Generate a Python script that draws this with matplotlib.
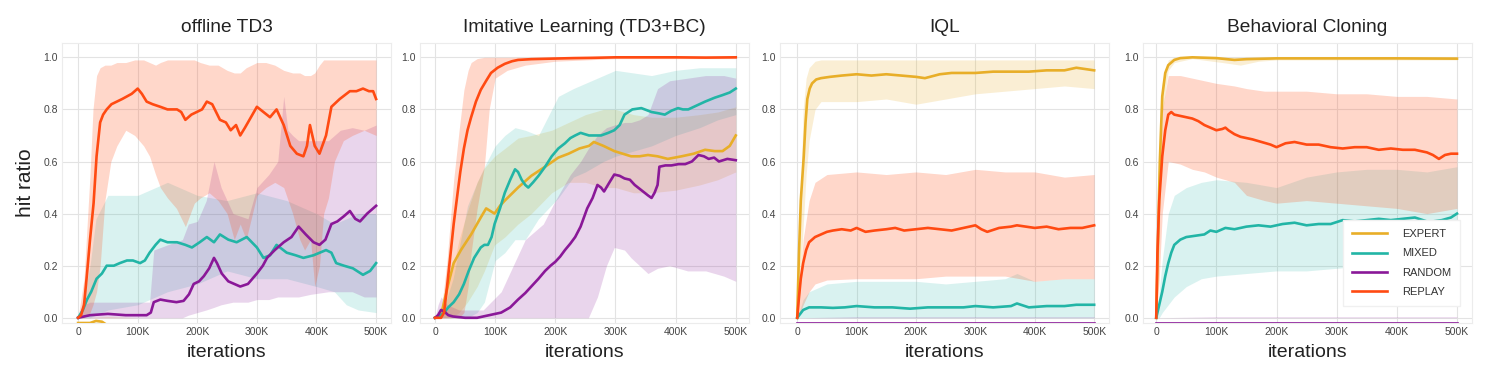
import matplotlib
matplotlib.use("Agg")
import matplotlib.pyplot as plt

plt.rcParams['font.family'] = ['Liberation Sans', 'DejaVu Sans']

# ---------------- data (x in thousands of iterations) ----------------
titles = ["offline TD3", "Imitative Learning (TD3+BC)", "IQL", "Behavioral Cloning"]
series_names = ["EXPERT", "MIXED", "RANDOM", "REPLAY"]
xticks_k = [0, 100, 200, 300, 400, 500]
xtick_labels = ["0", "100K", "200K", "300K", "400K", "500K"]
yticks = [0.0, 0.2, 0.4, 0.6, 0.8, 1.0]

# ---- offline TD3 ----
td3_expert_x = [0, 20, 30, 40, 50, 100, 200, 300, 400, 500]
td3_expert_m = [-0.02, -0.02, -0.012, -0.015, -0.03, -0.03, -0.03, -0.03, -0.03, -0.03]
td3_expert_bx = [0, 50, 100, 200, 300, 400, 500]
td3_expert_lo = [0, 0, 0, 0, 0, 0, 0]
td3_expert_hi = [0, 0.005, 0.0, 0.0, 0.0, 0.0, 0.0]

td3_mixed_x = [0, 8, 15, 22, 31, 40, 48, 60, 70, 82, 92, 104, 112, 120, 130, 138, 150, 166, 180, 191,
               204, 216, 228, 238, 252, 266, 283, 300, 311, 322, 333, 350, 365, 378, 395, 416, 425, 433,
               446, 461, 478, 490, 500]
td3_mixed_m = [0, 0.03, 0.07, 0.10, 0.15, 0.17, 0.20, 0.20, 0.21, 0.22, 0.22, 0.21, 0.22, 0.25, 0.28,
               0.30, 0.29, 0.29, 0.28, 0.27, 0.29, 0.31, 0.29, 0.32, 0.30, 0.29, 0.31, 0.27, 0.23, 0.24,
               0.28, 0.25, 0.24, 0.23, 0.24, 0.26, 0.25, 0.21, 0.20, 0.19, 0.165, 0.18, 0.21]
td3_mixed_bx = [0, 10, 20, 30, 50, 100, 150, 200, 250, 300, 350, 400, 430, 450, 470, 500]
td3_mixed_lo = [0, 0.0, 0.0, 0.01, 0.03, 0.05, 0.10, 0.13, 0.18, 0.15, 0.15, 0.12, 0.10, 0.05, 0.03, 0.02]
td3_mixed_hi = [0, 0.08, 0.20, 0.38, 0.47, 0.47, 0.52, 0.47, 0.45, 0.48, 0.45, 0.40, 0.36, 0.38, 0.40, 0.40]

td3_random_x = [0, 10, 20, 50, 80, 100, 115, 122, 127, 138, 150, 165, 177, 186, 194, 203, 211, 220,
                228, 233, 241, 252, 262, 272, 285, 300, 310, 317, 330, 345, 358, 370, 382, 395, 405,
                415, 425, 435, 446, 456, 465, 473, 485, 500]
td3_random_m = [0, 0.005, 0.01, 0.015, 0.01, 0.01, 0.01, 0.02, 0.06, 0.07, 0.065, 0.06, 0.065, 0.09,
                0.13, 0.14, 0.16, 0.19, 0.23, 0.21, 0.17, 0.14, 0.13, 0.12, 0.13, 0.17, 0.20, 0.23,
                0.26, 0.29, 0.31, 0.35, 0.32, 0.29, 0.28, 0.30, 0.36, 0.37, 0.39, 0.41, 0.38, 0.37,
                0.40, 0.43]
td3_random_bx = [0, 10, 20, 60, 120, 127, 150, 175, 185, 200, 215, 228, 240, 260, 285, 300, 320, 335,
                 345, 352, 360, 370, 390, 420, 440, 460, 480, 500]
td3_random_lo = [0, 0, 0, 0, 0, 0.0, 0.0, 0.0, 0.01, 0.02, 0.03, 0.04, 0.05, 0.06, 0.06, 0.07, 0.07,
                 0.08, 0.08, 0.08, 0.08, 0.08, 0.09, 0.10, 0.10, 0.10, 0.08, 0.08]
td3_random_hi = [0, 0.05, 0.06, 0.06, 0.06, 0.26, 0.28, 0.30, 0.36, 0.37, 0.45, 0.60, 0.50, 0.40, 0.38,
                 0.50, 0.55, 0.60, 0.85, 0.72, 0.70, 0.68, 0.68, 0.68, 0.72, 0.73, 0.72, 0.74]

td3_replay_x = [0, 5, 10, 15, 20, 26, 31, 37, 42, 48, 56, 65, 74, 82, 90, 100, 107, 115, 125, 138, 150,
                166, 173, 180, 190, 199, 208, 216, 225, 238, 248, 256, 265, 272, 280, 290, 300, 311, 322,
                333, 345, 356, 367, 378, 384, 389, 397, 405, 416, 425, 439, 456, 467, 478, 488, 495, 500]
td3_replay_m = [0, 0.01, 0.05, 0.17, 0.30, 0.44, 0.62, 0.75, 0.78, 0.80, 0.82, 0.83, 0.84, 0.85, 0.86,
                0.88, 0.86, 0.83, 0.82, 0.81, 0.80, 0.80, 0.79, 0.76, 0.78, 0.79, 0.80, 0.83, 0.82, 0.76,
                0.75, 0.72, 0.74, 0.70, 0.73, 0.77, 0.81, 0.79, 0.77, 0.80, 0.74, 0.66, 0.63, 0.62, 0.66,
                0.74, 0.66, 0.63, 0.70, 0.81, 0.84, 0.87, 0.87, 0.88, 0.87, 0.87, 0.84]
td3_replay_bx = [0, 10, 20, 25, 31, 37, 45, 55, 65, 80, 95, 110, 120, 130, 138, 150, 165, 180, 195, 205,
                 220, 235, 250, 262, 272, 282, 300, 315, 330, 345, 360, 372, 380, 390, 397, 405, 412, 420,
                 430, 445, 460, 480, 500]
td3_replay_lo = [0, 0.0, 0.02, 0.05, 0.10, 0.20, 0.45, 0.60, 0.66, 0.72, 0.70, 0.66, 0.62, 0.55, 0.50,
                 0.46, 0.42, 0.35, 0.44, 0.46, 0.48, 0.45, 0.40, 0.30, 0.36, 0.30, 0.47, 0.50, 0.52, 0.50,
                 0.40, 0.30, 0.26, 0.30, 0.12, 0.20, 0.40, 0.46, 0.60, 0.68, 0.70, 0.72, 0.70]
td3_replay_hi = [0, 0.15, 0.55, 0.80, 0.93, 0.96, 0.97, 0.97, 0.98, 0.98, 0.99, 0.99, 0.98, 0.97, 0.98,
                 0.99, 0.99, 0.99, 0.99, 0.98, 0.97, 0.97, 0.95, 0.94, 0.94, 0.96, 0.98, 0.98, 0.97, 0.95,
                 0.94, 0.94, 0.93, 0.93, 0.94, 0.97, 0.99, 0.99, 0.99, 0.99, 0.99, 0.99, 0.99]

# ---- Imitative Learning (TD3+BC) ----
bc3_expert_x = [0, 10, 20, 31, 43, 60, 76, 85, 92, 99, 108, 116, 138, 160, 183, 205, 222, 240, 256, 264,
                280, 298, 312, 326, 340, 354, 370, 387, 410, 430, 449, 465, 478, 490, 500]
bc3_expert_m = [0, 0.01, 0.11, 0.21, 0.26, 0.32, 0.385, 0.42, 0.41, 0.40, 0.43, 0.45, 0.50, 0.545, 0.58,
                0.615, 0.63, 0.65, 0.66, 0.675, 0.66, 0.64, 0.63, 0.62, 0.62, 0.625, 0.62, 0.61, 0.62,
                0.63, 0.645, 0.64, 0.64, 0.66, 0.70]
bc3_expert_bx = [0, 15, 26, 40, 54, 70, 82, 99, 116, 138, 160, 194, 222, 250, 280, 300, 330, 360, 400,
                 440, 470, 500]
bc3_expert_lo = [0, 0, 0.0, 0.02, 0.06, 0.12, 0.18, 0.28, 0.31, 0.36, 0.40, 0.48, 0.52, 0.52, 0.50,
                 0.50, 0.48, 0.48, 0.49, 0.51, 0.53, 0.56]
bc3_expert_hi = [0, 0.06, 0.15, 0.30, 0.41, 0.52, 0.575, 0.62, 0.65, 0.69, 0.70, 0.72, 0.75, 0.78, 0.80,
                 0.80, 0.78, 0.77, 0.77, 0.78, 0.79, 0.81]

bc3_mixed_x = [0, 10, 15, 22, 31, 40, 48, 56, 65, 76, 82, 88, 94, 99, 108, 116, 125, 133, 138, 144, 150,
               155, 163, 172, 183, 194, 205, 216, 225, 233, 242, 256, 276, 288, 298, 307, 315, 328, 343,
               360, 372, 382, 393, 404, 412, 421, 435, 449, 465, 478, 490, 500]
bc3_mixed_m = [0, 0.01, 0.02, 0.04, 0.06, 0.09, 0.13, 0.18, 0.23, 0.27, 0.28, 0.28, 0.31, 0.36, 0.42,
               0.48, 0.53, 0.57, 0.56, 0.53, 0.51, 0.50, 0.52, 0.545, 0.58, 0.62, 0.65, 0.67, 0.69, 0.70,
               0.71, 0.70, 0.70, 0.71, 0.72, 0.74, 0.78, 0.80, 0.805, 0.79, 0.785, 0.78, 0.795, 0.805,
               0.80, 0.80, 0.815, 0.83, 0.845, 0.855, 0.865, 0.88]
bc3_mixed_bx = [0, 15, 30, 54, 70, 82, 100, 116, 133, 150, 172, 205, 230, 250, 280, 300, 330, 360, 400,
                440, 470, 500]
bc3_mixed_lo = [0, 0, 0.0, 0.0, 0.02, 0.06, 0.22, 0.25, 0.30, 0.30, 0.38, 0.46, 0.54, 0.56, 0.60, 0.62,
                0.64, 0.66, 0.70, 0.73, 0.76, 0.78]
bc3_mixed_hi = [0, 0.04, 0.15, 0.43, 0.52, 0.58, 0.66, 0.70, 0.73, 0.72, 0.70, 0.85, 0.88, 0.90, 0.93,
                0.95, 0.94, 0.93, 0.95, 0.96, 0.96, 0.96]

bc3_random_x = [0, 5, 10, 15, 22, 30, 50, 70, 90, 100, 110, 125, 138, 150, 160, 172, 183, 192, 200, 208,
                216, 225, 233, 242, 253, 262, 270, 276, 281, 290, 298, 307, 315, 324, 332, 343, 354, 360,
                365, 370, 373, 383, 393, 405, 416, 427, 438, 447, 455, 464, 472, 486, 500]
bc3_random_m = [0, 0.01, 0.03, 0.025, 0.01, 0.005, 0.0, 0.0, 0.01, 0.015, 0.02, 0.04, 0.07, 0.095, 0.12,
                0.15, 0.18, 0.20, 0.215, 0.235, 0.26, 0.285, 0.31, 0.35, 0.42, 0.46, 0.51, 0.50, 0.485,
                0.52, 0.55, 0.545, 0.535, 0.53, 0.51, 0.49, 0.47, 0.46, 0.48, 0.51, 0.58, 0.585, 0.585,
                0.59, 0.59, 0.60, 0.625, 0.62, 0.61, 0.615, 0.60, 0.61, 0.605]
bc3_random_bx = [0, 5, 10, 20, 40, 80, 110, 130, 150, 180, 200, 225, 242, 255, 270, 285, 298, 315, 326,
                 340, 354, 370, 390, 420, 450, 480, 500]
bc3_random_lo = [0, 0, 0, 0, 0, 0, 0, 0, 0, 0, 0, 0, 0, 0.0, 0.08, 0.2, 0.27, 0.26, 0.23, 0.20, 0.17,
                 0.19, 0.20, 0.18, 0.18, 0.16, 0.14]
bc3_random_hi = [0, 0.05, 0.08, 0.05, 0.03, 0.03, 0.10, 0.20, 0.30, 0.36, 0.45, 0.55, 0.60, 0.65, 0.70,
                 0.73, 0.74, 0.75, 0.75, 0.76, 0.78, 0.88, 0.91, 0.92, 0.93, 0.93, 0.92]

bc3_replay_x = [0, 10, 15, 20, 26, 31, 37, 42, 48, 54, 60, 68, 76, 85, 93, 104, 116, 128, 138, 160, 194,
                230, 260, 300, 350, 400, 450, 500]
bc3_replay_m = [0, 0.0, 0.02, 0.12, 0.25, 0.36, 0.47, 0.56, 0.65, 0.72, 0.77, 0.83, 0.875, 0.91, 0.94,
                0.96, 0.975, 0.985, 0.99, 0.993, 0.995, 0.997, 0.998, 1.0, 1.0, 1.0, 0.999, 1.0]
bc3_replay_bx = [0, 10, 15, 20, 31, 40, 48, 55, 60, 70, 82, 90, 100, 120, 150, 200, 250, 300, 400, 500]
bc3_replay_lo = [0, 0, 0, 0.0, 0.0, 0.0, 0.02, 0.12, 0.25, 0.42, 0.58, 0.80, 0.92, 0.95, 0.97, 0.985,
                 0.99, 0.995, 0.995, 0.995]
bc3_replay_hi = [0, 0.02, 0.12, 0.22, 0.53, 0.72, 0.875, 0.95, 0.98, 0.995, 1.0, 1.0, 1.0, 1.0, 1.0,
                 1.0, 1.0, 1.0, 1.0, 1.0]

# ---- IQL ----
iql_expert_x = [0, 3, 6, 11, 14, 17, 21, 25, 32, 40, 55, 75, 100, 125, 150, 175, 200, 215, 240, 260, 300,
                330, 360, 390, 420, 450, 470, 485, 500]
iql_expert_m = [0, 0.25, 0.45, 0.62, 0.75, 0.84, 0.88, 0.90, 0.915, 0.92, 0.925, 0.93, 0.935, 0.93,
                0.935, 0.93, 0.925, 0.92, 0.935, 0.94, 0.94, 0.945, 0.945, 0.945, 0.95, 0.95, 0.96,
                0.955, 0.95]
iql_expert_bx = [0, 5, 10, 15, 20, 30, 40, 100, 150, 200, 250, 300, 350, 400, 450, 500]
iql_expert_lo = [0, 0.1, 0.35, 0.55, 0.68, 0.80, 0.83, 0.83, 0.84, 0.82, 0.84, 0.86, 0.87, 0.88, 0.89,
                 0.88]
iql_expert_hi = [0, 0.4, 0.8, 0.92, 0.96, 0.985, 0.99, 0.99, 0.99, 0.99, 0.99, 0.99, 0.99, 0.99, 0.99,
                 0.99]

iql_mixed_x = [0, 5, 10, 20, 40, 60, 80, 100, 130, 160, 190, 220, 250, 280, 300, 330, 360, 370, 390, 420,
               450, 470, 500]
iql_mixed_m = [0, 0.015, 0.03, 0.04, 0.04, 0.038, 0.04, 0.045, 0.04, 0.04, 0.035, 0.04, 0.04, 0.04,
               0.045, 0.04, 0.045, 0.055, 0.04, 0.045, 0.045, 0.05, 0.05]
iql_mixed_bx = [0, 10, 20, 50, 100, 150, 200, 250, 300, 350, 370, 400, 450, 500]
iql_mixed_lo = [0, 0, 0, 0, 0, 0, 0, 0, 0, 0, 0, 0, 0, 0]
iql_mixed_hi = [0, 0.07, 0.10, 0.13, 0.14, 0.14, 0.14, 0.13, 0.14, 0.15, 0.17, 0.14, 0.15, 0.15]

iql_random_x = [0, 100, 200, 300, 400, 500]
iql_random_m = [-0.02, -0.02, -0.02, -0.02, -0.02, -0.02]
iql_random_bx = [0, 100, 200, 300, 400, 500]
iql_random_lo = [0, 0, 0, 0, 0, 0]
iql_random_hi = [0, 0.004, 0.004, 0.004, 0.004, 0.004]

iql_replay_x = [0, 3, 6, 10, 15, 20, 30, 40, 50, 60, 75, 90, 100, 115, 130, 150, 165, 180, 200, 220,
                240, 260, 280, 300, 310, 320, 340, 360, 370, 385, 400, 420, 440, 460, 480, 490, 500]
iql_replay_m = [0, 0.08, 0.15, 0.21, 0.26, 0.29, 0.31, 0.32, 0.33, 0.335, 0.34, 0.335, 0.345, 0.33,
                0.335, 0.34, 0.345, 0.335, 0.34, 0.345, 0.34, 0.335, 0.345, 0.355, 0.34, 0.33, 0.345,
                0.35, 0.355, 0.35, 0.345, 0.35, 0.34, 0.345, 0.345, 0.35, 0.355]
iql_replay_bx = [0, 5, 10, 20, 30, 50, 100, 150, 200, 250, 300, 350, 400, 450, 500]
iql_replay_lo = [0, 0.02, 0.05, 0.10, 0.13, 0.145, 0.15, 0.15, 0.15, 0.16, 0.16, 0.16, 0.14, 0.15, 0.15]
iql_replay_hi = [0, 0.15, 0.30, 0.45, 0.52, 0.55, 0.56, 0.55, 0.56, 0.55, 0.57, 0.56, 0.56, 0.54, 0.55]

# ---- Behavioral Cloning ----
bc_expert_x = [0, 3, 6, 10, 15, 20, 30, 40, 60, 100, 130, 150, 200, 300, 400, 500]
bc_expert_m = [0, 0.3, 0.6, 0.85, 0.94, 0.97, 0.99, 0.997, 1.0, 0.997, 0.99, 0.993, 0.996, 0.996,
               0.996, 0.995]
bc_expert_bx = [0, 5, 10, 20, 30, 60, 110, 140, 170, 200, 500]
bc_expert_lo = [0, 0.4, 0.78, 0.95, 0.98, 0.995, 0.98, 0.97, 0.985, 0.99, 0.99]
bc_expert_hi = [0, 0.65, 0.9, 0.99, 1.0, 1.0, 1.0, 1.0, 1.0, 1.0, 1.0]

bc_mixed_x = [0, 5, 10, 15, 20, 25, 30, 40, 50, 65, 80, 90, 100, 115, 130, 150, 170, 190, 210, 230,
              250, 270, 290, 310, 330, 350, 370, 390, 410, 430, 450, 460, 475, 490, 500]
bc_mixed_m = [0, 0.05, 0.10, 0.16, 0.21, 0.25, 0.28, 0.30, 0.31, 0.315, 0.32, 0.335, 0.33, 0.345,
              0.34, 0.35, 0.355, 0.35, 0.36, 0.365, 0.355, 0.36, 0.36, 0.375, 0.37, 0.375, 0.38, 0.375,
              0.38, 0.385, 0.37, 0.37, 0.375, 0.385, 0.40]
bc_mixed_bx = [0, 5, 10, 20, 30, 50, 75, 100, 150, 200, 250, 300, 350, 400, 450, 500]
bc_mixed_lo = [0, 0.0, 0.02, 0.05, 0.08, 0.12, 0.15, 0.16, 0.17, 0.18, 0.18, 0.19, 0.20, 0.21, 0.22,
               0.22]
bc_mixed_hi = [0, 0.1, 0.22, 0.40, 0.47, 0.50, 0.52, 0.53, 0.52, 0.50, 0.54, 0.56, 0.57, 0.57, 0.56,
               0.58]

bc_random_x = [0, 100, 200, 300, 400, 500]
bc_random_m = [-0.02, -0.02, -0.02, -0.02, -0.02, -0.02]
bc_random_bx = [0, 100, 200, 300, 400, 500]
bc_random_lo = [0, 0, 0, 0, 0, 0]
bc_random_hi = [0, 0.004, 0.004, 0.004, 0.004, 0.004]

bc_replay_x = [0, 2, 5, 10, 15, 20, 25, 30, 40, 50, 60, 70, 80, 90, 100, 110, 115, 120, 130, 140, 150,
               160, 175, 190, 200, 215, 230, 250, 270, 290, 310, 330, 350, 370, 390, 410, 430, 450,
               460, 470, 480, 490, 500]
bc_replay_m = [0, 0.25, 0.45, 0.62, 0.72, 0.78, 0.79, 0.78, 0.775, 0.77, 0.765, 0.755, 0.74, 0.73,
               0.72, 0.725, 0.73, 0.72, 0.705, 0.695, 0.69, 0.685, 0.675, 0.665, 0.655, 0.67, 0.675,
               0.665, 0.665, 0.655, 0.65, 0.655, 0.655, 0.645, 0.65, 0.645, 0.645, 0.635, 0.625, 0.61,
               0.625, 0.63, 0.63]
bc_replay_bx = [0, 5, 10, 20, 40, 60, 80, 100, 130, 150, 180, 200, 250, 300, 350, 400, 450, 500]
bc_replay_lo = [0, 0.15, 0.4, 0.6, 0.59, 0.57, 0.56, 0.54, 0.52, 0.47, 0.45, 0.44, 0.45, 0.44, 0.43,
                0.42, 0.40, 0.42]
bc_replay_hi = [0, 0.4, 0.8, 0.93, 0.93, 0.92, 0.91, 0.90, 0.89, 0.88, 0.87, 0.87, 0.87, 0.86, 0.86,
                0.85, 0.85, 0.84]

panels = [
    [(td3_expert_x, td3_expert_m, td3_expert_bx, td3_expert_lo, td3_expert_hi),
     (td3_mixed_x, td3_mixed_m, td3_mixed_bx, td3_mixed_lo, td3_mixed_hi),
     (td3_random_x, td3_random_m, td3_random_bx, td3_random_lo, td3_random_hi),
     (td3_replay_x, td3_replay_m, td3_replay_bx, td3_replay_lo, td3_replay_hi)],
    [(bc3_expert_x, bc3_expert_m, bc3_expert_bx, bc3_expert_lo, bc3_expert_hi),
     (bc3_mixed_x, bc3_mixed_m, bc3_mixed_bx, bc3_mixed_lo, bc3_mixed_hi),
     (bc3_random_x, bc3_random_m, bc3_random_bx, bc3_random_lo, bc3_random_hi),
     (bc3_replay_x, bc3_replay_m, bc3_replay_bx, bc3_replay_lo, bc3_replay_hi)],
    [(iql_expert_x, iql_expert_m, iql_expert_bx, iql_expert_lo, iql_expert_hi),
     (iql_mixed_x, iql_mixed_m, iql_mixed_bx, iql_mixed_lo, iql_mixed_hi),
     (iql_random_x, iql_random_m, iql_random_bx, iql_random_lo, iql_random_hi),
     (iql_replay_x, iql_replay_m, iql_replay_bx, iql_replay_lo, iql_replay_hi)],
    [(bc_expert_x, bc_expert_m, bc_expert_bx, bc_expert_lo, bc_expert_hi),
     (bc_mixed_x, bc_mixed_m, bc_mixed_bx, bc_mixed_lo, bc_mixed_hi),
     (bc_random_x, bc_random_m, bc_random_bx, bc_random_lo, bc_random_hi),
     (bc_replay_x, bc_replay_m, bc_replay_bx, bc_replay_lo, bc_replay_hi)],
]

# ---------------- styling ----------------
line_colors = ["#E8AE28", "#22B5A6", "#8A1898", "#FF4A12"]
fill_alpha = [0.20, 0.17, 0.18, 0.22]

W, H = 1491, 374
fig = plt.figure(figsize=(W / 100, H / 100), dpi=100)
ax_lefts = [62, 420, 780, 1143]
ax_w = 329
ax_top, ax_bot = 43, 323
xlims = [(-27, 525), (-25, 522), (-29, 525), (-22, 525)]

for i, (title, data) in enumerate(zip(titles, panels)):
    ax = fig.add_axes([ax_lefts[i] / W, 1 - ax_bot / H, ax_w / W, (ax_bot - ax_top) / H])
    ax.set_facecolor("white")
    for s in ax.spines.values():
        s.set_color("#ececec")
        s.set_linewidth(0.8)
    ax.grid(True, color="#e3e3e3", linewidth=0.8)
    ax.set_axisbelow(True)
    for j, (x, m, bx, lo, hi) in enumerate(data):
        xs = [v * 1000 for v in bx]
        ax.fill_between(xs, lo, hi, color=line_colors[j], alpha=fill_alpha[j], linewidth=0, zorder=2)
    for j, (x, m, bx, lo, hi) in enumerate(data):
        ax.plot([v * 1000 for v in x], m, color=line_colors[j], lw=1.9, zorder=3,
                label=series_names[j], solid_joinstyle="round")
    ax.set_xlim(xlims[i][0] * 1000, xlims[i][1] * 1000)
    ax.set_ylim(-0.02, 1.055)
    ax.set_xticks([v * 1000 for v in xticks_k])
    ax.set_xticklabels(xtick_labels)
    ax.set_yticks(yticks)
    ax.set_yticklabels([f"{v:.1f}" for v in yticks])
    ax.tick_params(length=0, labelsize=7.5, labelcolor="#444444", pad=3)
    ax.set_title(title, fontsize=13.8, pad=8, color="#222222")
    ax.set_xlabel("iterations", fontsize=14, color="#222222", labelpad=5)
    if i == 0:
        ax.set_ylabel("hit ratio", fontsize=15, color="#222222", labelpad=6)
    if i == 3:
        leg = ax.legend(loc="lower right", bbox_to_anchor=(0.98, 0.04), fontsize=8,
                        handlelength=3.2, labelspacing=0.85, borderpad=0.8, handletextpad=1.3,
                        frameon=True, fancybox=False, edgecolor="#f0f0f0", framealpha=1.0)
        for t in leg.get_texts():
            t.set_color("#333333")

fig.savefig("out.png", dpi=100)
